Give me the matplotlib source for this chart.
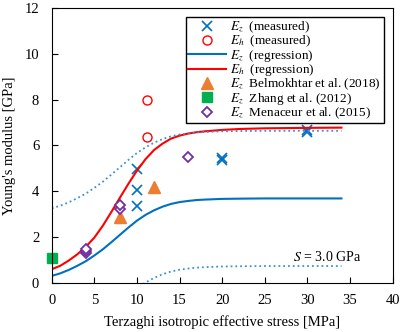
import matplotlib
matplotlib.use('Agg')
import matplotlib.pyplot as plt
import numpy as np

# regression curves
x_fit = [0, 1, 2, 3, 4, 5, 6, 7, 8, 9, 10, 11, 12, 13, 14, 15, 16, 17, 18,
         20, 22, 25, 30, 34]
ez_fit = [0.31, 0.42, 0.57, 0.75, 0.95, 1.2, 1.47, 1.78, 2.1, 2.42, 2.72,
          2.97, 3.17, 3.33, 3.45, 3.53, 3.58, 3.62, 3.64, 3.67, 3.68, 3.69,
          3.69, 3.69]
eh_fit = [0.6, 0.75, 0.98, 1.25, 1.58, 1.98, 2.5, 3.1, 3.72, 4.33, 4.9, 5.4,
          5.8, 6.08, 6.3, 6.43, 6.52, 6.58, 6.62, 6.68, 6.72, 6.75, 6.77, 6.78]
ez_upper = [3.26, 3.37, 3.52, 3.7, 3.9, 4.15, 4.42, 4.73, 5.05, 5.37, 5.67,
            5.92, 6.12, 6.28, 6.4, 6.48, 6.53, 6.57, 6.59, 6.62, 6.63, 6.64,
            6.64, 6.64]
ez_lower = [-2.64, -2.53, -2.38, -2.2, -2.0, -1.75, -1.48, -1.17, -0.85,
            -0.53, -0.23, 0.02, 0.22, 0.38, 0.5, 0.58, 0.63, 0.67, 0.69, 0.72,
            0.73, 0.74, 0.74, 0.74]

# measured points
ez_x = [10, 10, 10, 20, 20, 30, 30]
ez_y = [4.97, 4.06, 3.38, 5.47, 5.36, 6.68, 6.6]
eh_x = [11.2, 11.2]
eh_y = [7.98, 6.36]

# literature
belm_x = [8, 12]
belm_y = [2.9, 4.18]
zhang_x = [0]
zhang_y = [1.1]
mena_x = [4, 4, 4, 8, 8, 16]
mena_y = [1.3, 1.4, 1.5, 3.22, 3.42, 5.48]

blue = '#0070C0'
dotblue = '#3D8FD6'

plt.rcParams['font.family'] = ['Liberation Serif', 'DejaVu Serif']
plt.rcParams['mathtext.fontset'] = 'stix'
plt.rcParams['font.size'] = 10

fig = plt.figure(figsize=(4.15, 3.32), dpi=100)
ax = fig.add_axes([0.1246, 0.1476, 0.8214, 0.8283])

ax.plot(ez_x, ez_y, 'x', color=blue, ms=6.5, mew=1.2, label=r'$E_z$  (measured)')
ax.plot(eh_x, eh_y, 'o', mfc='white', mec='#FF0000', ms=6.5, mew=1.0,
        label=r'$E_h$  (measured)')
ax.plot(x_fit, ez_fit, '-', color=blue, lw=1.5, label=r'$E_z$  (regression)')
ax.plot(x_fit, eh_fit, '-', color='#FF0000', lw=1.5, label=r'$E_h$  (regression)')
ax.plot(x_fit, ez_upper, ':', color=dotblue, lw=1.3)
ax.plot(x_fit, ez_lower, ':', color=dotblue, lw=1.3)
ax.plot(belm_x, belm_y, '^', color='#ED7D31', ms=8, lw=0,
        label=r'$E_z$  Belmokhtar et al. (2018)')
ax.plot(zhang_x, zhang_y, 's', color='#00B050', ms=7, lw=0, clip_on=False,
        label=r'$E_z$  Zhang et al. (2012)')
ax.plot(mena_x, mena_y, 'D', mfc='white', mec='#7030A0', ms=5.5, mew=1.3, lw=0,
        label=r'$E_z$  Menaceur et al. (2015)')

ax.text(28.3, 1.13, r'$S$ = 3.0 GPa', fontsize=10, va='center')

ax.set_xlim(0, 40)
ax.set_ylim(0, 12)
ax.set_xticks(np.arange(0, 41, 5))
ax.set_yticks(np.arange(0, 13, 2))
ax.tick_params(direction='in', length=4, width=0.8, labelsize=10.5)
ax.tick_params(axis='x', pad=8)
ax.tick_params(axis='y', pad=9)
ax.set_xlabel('Terzaghi isotropic effective stress [MPa]', fontsize=10.5,
              labelpad=6)
ax.set_ylabel("Young's modulus [GPa]", fontsize=10.5, labelpad=6)

leg = ax.legend(loc='upper right', bbox_to_anchor=(0.974, 0.967), fancybox=False,
                edgecolor='black', framealpha=1, fontsize=9.5, handlelength=2.85,
                handleheight=0.5, labelspacing=-0.1, borderpad=0.2,
                handletextpad=0.35, borderaxespad=0)
leg.get_frame().set_linewidth(1.0)

fig.savefig('out.png', dpi=100)
